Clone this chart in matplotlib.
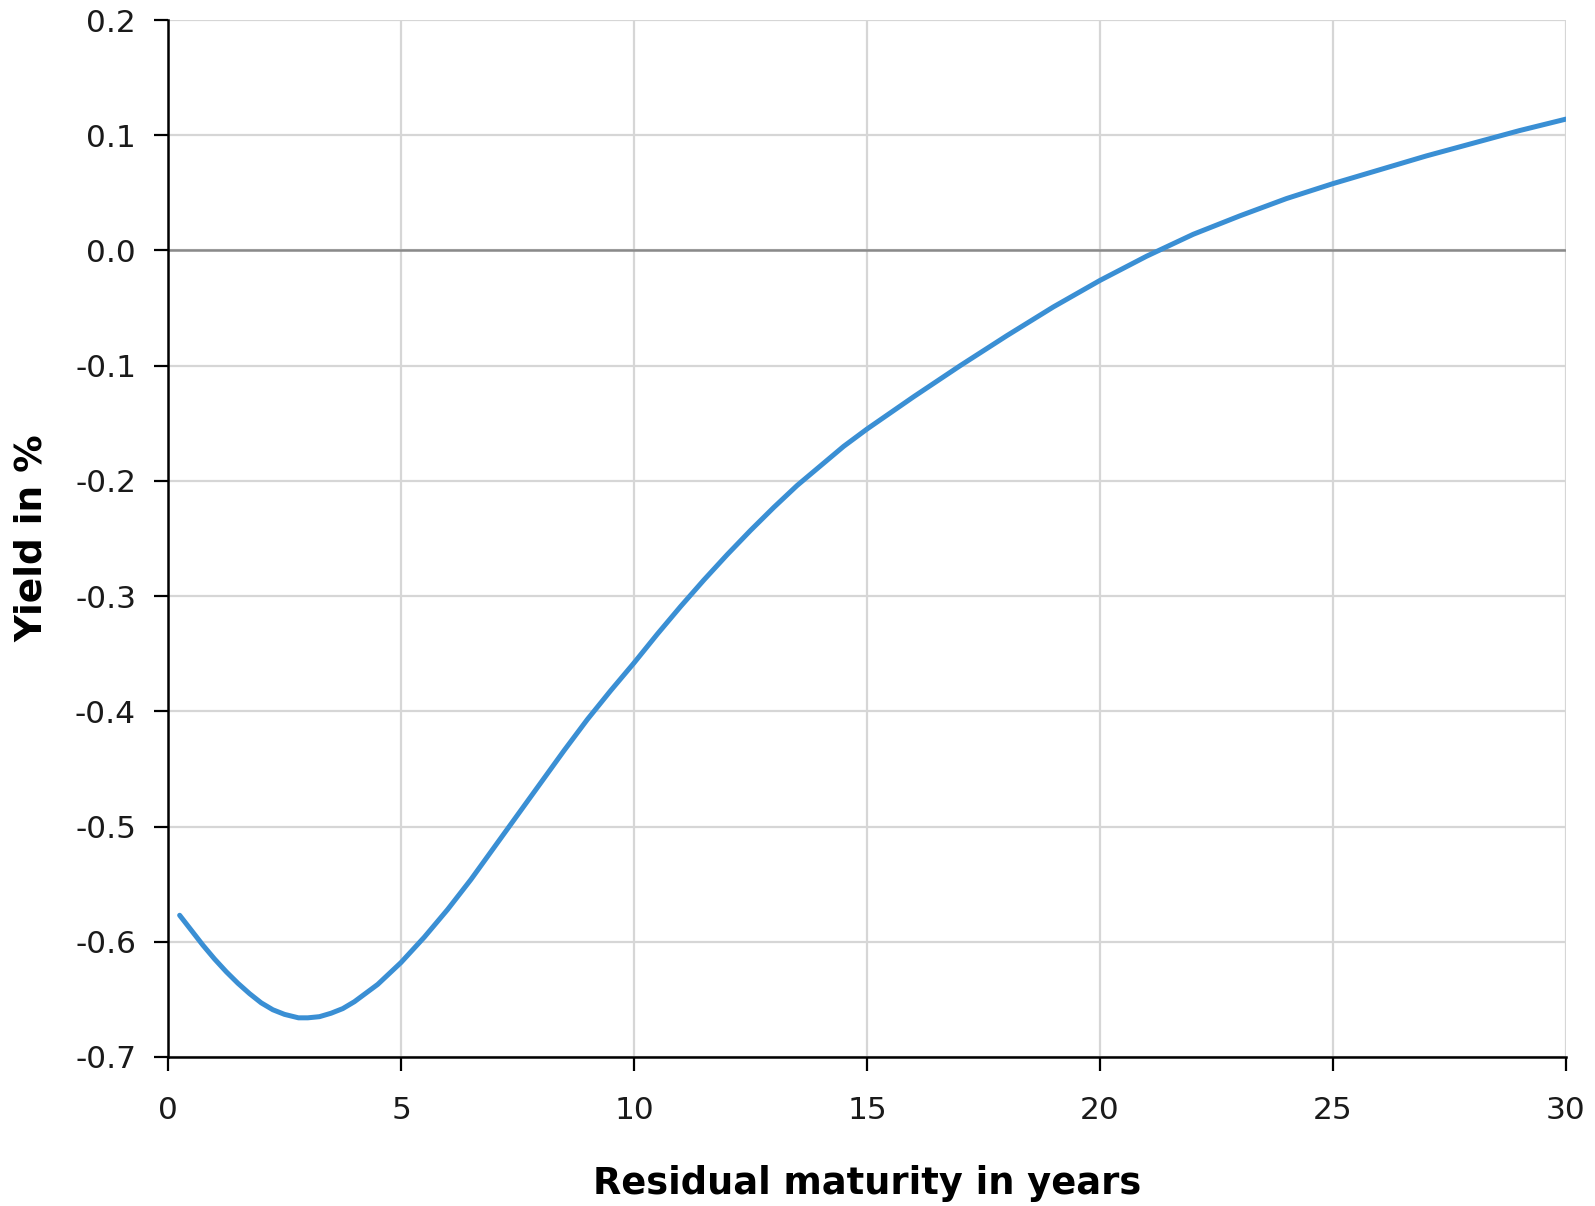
import numpy as np
import matplotlib
matplotlib.use('Agg')
import matplotlib.pyplot as plt

# yield curve
maturity = [0.25, 0.5, 0.75, 1.0, 1.25, 1.5, 1.75, 2.0, 2.25, 2.5, 2.8, 3.0, 3.25,
            3.5, 3.75, 4.0, 4.5, 5.0, 5.5, 6.0, 6.5, 7.0, 7.5, 8.0, 8.5, 9.0, 9.5,
            10.0, 10.5, 11.0, 11.5, 12.0, 12.5, 13.0, 13.5, 14.0, 14.5, 15.0, 16,
            17, 18, 19, 20, 21, 22, 23, 24, 25, 26, 27, 28, 29, 30]
yields = [-0.577, -0.590, -0.603, -0.615, -0.626, -0.636, -0.645, -0.653, -0.659,
          -0.663, -0.666, -0.666, -0.665, -0.662, -0.658, -0.652, -0.637, -0.618,
          -0.596, -0.572, -0.546, -0.518, -0.490, -0.462, -0.434, -0.407, -0.382,
          -0.358, -0.333, -0.309, -0.286, -0.264, -0.243, -0.223, -0.204, -0.187,
          -0.170, -0.155, -0.127, -0.100, -0.074, -0.049, -0.026, -0.005, 0.014,
          0.030, 0.045, 0.058, 0.070, 0.082, 0.093, 0.104, 0.114]

xticks = [0, 5, 10, 15, 20, 25, 30]
yticks = [0.2, 0.1, 0.0, -0.1, -0.2, -0.3, -0.4, -0.5, -0.6, -0.7]

plt.rcParams['font.family'] = ['DejaVu Sans']

fig = plt.figure(figsize=(15.95, 12.06), dpi=100)
ax = fig.add_axes([168/1595, 1 - 1057/1206, (1566-168)/1595, (1057-20)/1206])

ax.plot(maturity, yields, color='#3a8fd4', lw=3.6, solid_capstyle='round',
        solid_joinstyle='round', zorder=3)
ax.axhline(0, color='#8a8a8a', lw=1.8, zorder=2)

ax.set_xlim(0, 30)
ax.set_ylim(-0.7, 0.2)
ax.set_xticks(xticks)
ax.set_yticks(yticks)
ax.set_yticklabels(['%.1f' % v for v in yticks])
ax.grid(True, color='#d6d6d6', lw=1.6, zorder=1)

for s in ['top', 'right']:
    ax.spines[s].set_visible(False)
for s in ['left', 'bottom']:
    ax.spines[s].set_linewidth(1.8)
    ax.spines[s].set_color('black')

ax.tick_params(axis='y', length=10, width=1.6, pad=13, labelsize=22.5, labelcolor='#1a1a1a')
ax.tick_params(axis='x', length=10, width=1.6, pad=18, labelsize=22.5, labelcolor='#1a1a1a')

ax.set_xlabel('Residual maturity in years', fontsize=26.5, fontweight='bold', labelpad=29)
ax.set_ylabel('Yield in %', fontsize=27, fontweight='bold', labelpad=18)

fig.savefig('out.png', dpi=100)
